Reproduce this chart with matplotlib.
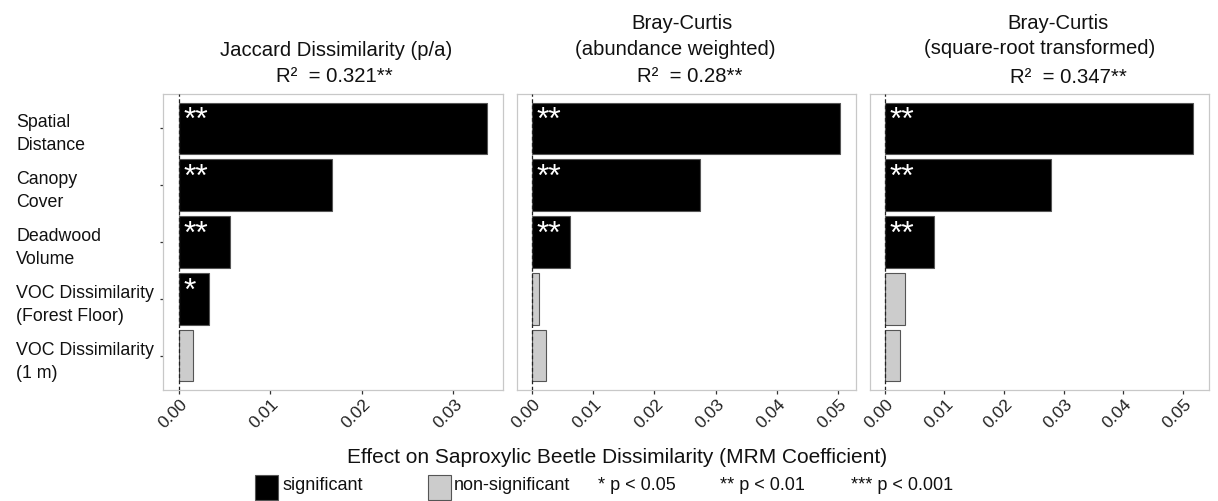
import matplotlib
matplotlib.use("Agg")
import matplotlib.pyplot as plt
import matplotlib.transforms as mtransforms
from matplotlib.patches import Rectangle
from matplotlib.ticker import MultipleLocator, FormatStrFormatter

plt.rcParams['font.family'] = ['Liberation Sans', 'DejaVu Sans']

# predictors, top to bottom
labels = ["Spatial\nDistance", "Canopy\nCover", "Deadwood\nVolume",
          "VOC Dissimilarity\n(Forest Floor)", "VOC Dissimilarity\n(1 m)"]

# MRM coefficients
jaccard = [0.0337, 0.0168, 0.0056, 0.0033, 0.00155]
bray_abund = [0.0504, 0.0275, 0.0062, 0.0011, 0.0023]
bray_sqrt = [0.0518, 0.0279, 0.0083, 0.0033, 0.0026]

# significance stars ('' = non-significant)
stars_jaccard = ["**", "**", "**", "*", ""]
stars_abund = ["**", "**", "**", "", ""]
stars_sqrt = ["**", "**", "**", "", ""]

titles = [["Jaccard Dissimilarity (p/a)", "R²  = 0.321**"],
          ["Bray-Curtis", "(abundance weighted)", "R²  = 0.28**"],
          ["Bray-Curtis", "(square-root transformed)", "R²  = 0.347**"]]
# per-line centres in pixels (titles are a bit uneven in the original)
title_x = [[336, 334], [682, 675, 690], [1058, 1040, 1068]]
title_y = [[56, 82], [29, 55, 82], [29, 54, 83]]

SIG = "#000000"
NONSIG = "#cccccc"
EDGE = "#555555"

W, H = 1218, 502
fig = plt.figure(figsize=(W / 100, H / 100), dpi=100)


def fx(px):
    return px / W


def fy(py):
    return 1 - py / H


panel_left = [163.3, 516.5, 869.5]
panel_w = 339.3
top, bottom = 95, 391

datasets = [jaccard, bray_abund, bray_sqrt]
star_sets = [stars_jaccard, stars_abund, stars_sqrt]
ypos = list(range(len(labels) - 1, -1, -1))

for i, (vals, stars) in enumerate(zip(datasets, star_sets)):
    ax = fig.add_axes([fx(panel_left[i]), fy(bottom), panel_w / W, (bottom - top) / H])
    colors = [SIG if s else NONSIG for s in stars]
    ax.barh(ypos, vals, height=0.9, color=colors, edgecolor=EDGE, linewidth=0.8, zorder=2)
    ax.axvline(0, color="#222222", lw=0.9, ls=(0, (3, 2)), zorder=3)

    m = max(vals)
    ax.set_xlim(-0.05 * m, 1.05 * m)
    ax.set_ylim(-0.6, len(labels) - 0.4)
    ax.xaxis.set_major_locator(MultipleLocator(0.01))
    ax.xaxis.set_major_formatter(FormatStrFormatter('%.2f'))

    for s, y in zip(stars, ypos):
        if s:
            ax.annotate(s, xy=(0, y + 0.45), xytext=(3.5, -2), textcoords='offset points',
                        ha='left', va='top', color='white', fontsize=23, zorder=4)

    for sp in ax.spines.values():
        sp.set_color("#c8c8c8")
        sp.set_linewidth(0.9)

    ax.tick_params(axis='x', length=3, width=0.9, color="#333333", pad=1,
                   labelsize=12.5, labelcolor="#222222")
    offset = mtransforms.ScaledTranslation(0.01, 0, fig.dpi_scale_trans)
    for lab in ax.get_xticklabels():
        lab.set_rotation(45)
        lab.set_rotation_mode('anchor')
        lab.set_ha('right')
        lab.set_va('top')
        lab.set_transform(lab.get_transform() + offset)

    if i == 0:
        ax.set_yticks(ypos)
        ax.set_yticklabels(labels, fontsize=12.8, color="#111111", linespacing=1.45)
        ax.tick_params(axis='y', length=2.2, width=0.9, color="#333333",
                       pad=(panel_left[0] - 16) * 0.72 - 2.2)
        for lab in ax.get_yticklabels():
            lab.set_ha('left')
    else:
        ax.set_yticks([])

    for line, x, y in zip(titles[i], title_x[i], title_y[i]):
        fig.text(fx(x), fy(y), line, ha='center', va='baseline', fontsize=14.6, color="#111111")

# shared x label
fig.text(fx(617.5), fy(463.3), "Effect on Saproxylic Beetle Dissimilarity (MRM Coefficient)",
         ha='center', va='baseline', fontsize=15, color="#111111")

# legend along the bottom
fig.add_artist(Rectangle((fx(255), fy(500.7)), 22.7 / W, 24.7 / H, transform=fig.transFigure,
                         facecolor=SIG, edgecolor=EDGE, linewidth=0.8))
fig.add_artist(Rectangle((fx(428.3), fy(500.7)), 22.4 / W, 24.7 / H, transform=fig.transFigure,
                         facecolor=NONSIG, edgecolor=EDGE, linewidth=0.8))
legend_items = [(282.3, "significant"), (453.3, "non-significant"),
                (598, "* p < 0.05"), (720, "** p < 0.01"), (850.7, "*** p < 0.001")]
for x, txt in legend_items:
    fig.text(fx(x), fy(490), txt, ha='left', va='baseline', fontsize=13, color="#111111")

fig.savefig("out.png", dpi=100)
